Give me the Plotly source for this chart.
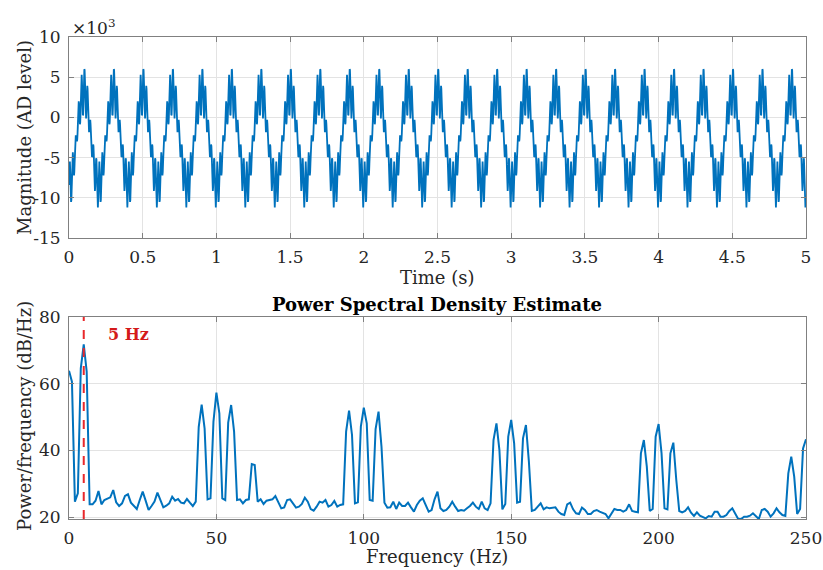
import numpy as np
import plotly.graph_objects as go

# ---------------- data ----------------
fs = 500  # samples per second
# one 0.2 s cycle of the (periodic) signal, AD counts
cycle_counts = [
    -8400, -6620, -5520, -5480, -6490, -8120, -9680, -10510, -10280, -9070,
    -7290, -5590, -4520, -4350, -4980, -6010, -6900, -7210, -6780, -5720,
    -4390, -3200, -2460, -2220, -2360, -2600, -2840, -2980, -2740, -2000,
    -810, 520, 1580, 2010, 1700, 810, -230, -850, -680, 390,
    2090, 3870, 5080, 5310, 4480, 2920, 1290, 280, 320, 1420,
    3200, 4960, 5990, 5910, 4750, 2920, 1110, -10, -120, 720,
    2090, 3360, 3940, 3600, 2420, 810, -690, -1620, -1830, -1450,
    -810, -320, -290, -770, -1630, -2600, -3570, -4430, -4910, -4880,
    -4390, -3750, -3370, -3580, -4510, -6010, -7620, -8800, -9140, -8560,
    -7290, -5920, -5080, -5190, -6310, -8120, -9950, -11110, -11190, -10160,
]
n_cycles = 25

psd_db = [
    63.9, 60.6, 24.6, 27.1, 64.6, 71.8, 63.6, 23.8, 23.8, 24.9,
    27.8, 23.8, 25.1, 25.4, 25.9, 28.1, 24.4, 23.3, 24.1, 26.3,
    26.8, 24.3, 23.3, 22.4, 25.1, 27.6, 24.9, 22.1, 23.3, 24.6,
    27.3, 25.2, 22.9, 23.4, 24.1, 26.1, 24.9, 25.4, 24.3, 24.1,
    25.4, 24.3, 23.3, 24.6, 47.0, 53.7, 46.5, 25.3, 25.6, 48.6,
    57.3, 51.1, 25.6, 25.1, 48.3, 53.6, 45.6, 25.1, 25.3, 24.1,
    25.1, 25.3, 35.9, 35.6, 24.6, 25.3, 23.9, 24.9, 25.1, 25.3,
    26.3, 24.3, 22.6, 22.9, 25.1, 25.3, 23.9, 22.8, 23.1, 23.9,
    25.8, 24.6, 22.4, 21.9, 23.1, 24.6, 24.3, 25.1, 23.1, 23.6,
    24.8, 23.1, 23.6, 23.8, 45.6, 51.9, 44.6, 24.1, 24.4, 47.1,
    52.8, 48.1, 25.1, 24.9, 46.4, 51.6, 41.1, 24.3, 22.8, 22.9,
    24.6, 22.4, 24.3, 23.3, 23.3, 24.3, 22.9, 21.6, 23.6, 24.9,
    25.6, 23.8, 21.6, 22.1, 25.3, 27.6, 22.6, 21.8, 22.1, 23.1,
    24.6, 23.1, 21.8, 22.1, 21.9, 22.6, 23.3, 24.3, 23.1, 22.4,
    24.6, 22.6, 22.1, 24.1, 43.1, 48.1, 40.1, 22.3, 23.9, 44.1,
    49.1, 42.1, 24.3, 24.6, 43.6, 47.6, 36.6, 21.8, 22.1, 23.1,
    24.1, 22.3, 22.9, 22.6, 22.8, 22.9, 21.6, 20.9, 20.6, 23.8,
    24.3, 22.3, 21.1, 20.9, 22.8, 22.1, 20.9, 20.9, 21.8, 22.1,
    21.6, 21.3, 20.9, 19.6, 21.1, 22.4, 22.1, 22.1, 21.6, 22.1,
    23.8, 21.8, 21.6, 21.4, 39.1, 43.1, 35.1, 21.8, 22.4, 44.1,
    47.9, 39.1, 22.6, 22.3, 39.1, 42.3, 31.1, 21.8, 21.4, 21.8,
    22.9, 21.3, 20.3, 21.4, 20.4, 19.9, 19.6, 20.3, 20.1, 21.6,
    21.6, 20.1, 20.1, 20.6, 21.8, 22.6, 21.1, 19.4, 19.4, 20.1,
    20.1, 20.4, 21.1, 20.1, 19.4, 22.1, 22.4, 21.6, 20.1, 21.1,
    22.6, 21.4, 20.6, 20.3, 33.1, 38.1, 32.1, 20.9, 22.4, 40.6,
    43.3,
]
freq_hz = np.arange(len(psd_db))  # 1 Hz bins, 0..250 Hz
marker_freq = 5

top_yticks = [-15000, -10000, -5000, 0, 5000, 10000]
top_yticktext = ["-15", "-10", "-5", "0", "5", "10"]
top_xticks = [0, 0.5, 1, 1.5, 2, 2.5, 3, 3.5, 4, 4.5, 5]
bot_xticks = [0, 50, 100, 150, 200, 250]
bot_yticks = [20, 40, 60, 80]

signal = np.tile(np.array(cycle_counts, dtype=float), n_cycles)
t = np.arange(len(signal)) / fs

# ---------------- figure ----------------
W, H = 823, 570
FONT = "DejaVu Serif"
TXT = "#262626"
BLUE = "#0072BD"
GRID = "#e3e3e3"
AXC = "#808080"


def px(x):
    return x / W


def py(y):
    return 1 - y / H


fig = go.Figure()
fig.add_trace(go.Scatter(x=t, y=signal, mode="lines",
                         line=dict(color=BLUE, width=1.8),
                         xaxis="x", yaxis="y", showlegend=False, hoverinfo="skip"))
fig.add_trace(go.Scatter(x=freq_hz, y=psd_db, mode="lines",
                         line=dict(color=BLUE, width=2),
                         xaxis="x2", yaxis="y2", showlegend=False))
fig.add_trace(go.Scatter(x=[marker_freq, marker_freq], y=[19.4, 80], mode="lines",
                         line=dict(color="#e8282b", width=2, dash="dash"),
                         xaxis="x2", yaxis="y2", showlegend=False))

common_axis = dict(
    showline=True, linecolor=AXC, linewidth=1, mirror="ticks",
    ticks="inside", ticklen=5, tickcolor=AXC,
    showgrid=True, gridcolor=GRID, gridwidth=1,
    zeroline=False, automargin=False,
    tickfont=dict(family=FONT, size=17, color=TXT),
)

xd = [px(69), px(806)]
fig.update_layout(
    width=W, height=H,
    margin=dict(l=0, r=0, t=0, b=0, autoexpand=False),
    paper_bgcolor="white", plot_bgcolor="white",
    xaxis=dict(common_axis, domain=xd, range=[0, 5], tickvals=top_xticks,
               anchor="y", ticklabelstandoff=4),
    yaxis=dict(common_axis, domain=[py(238), py(37)], range=[-15000, 10000],
               tickvals=top_yticks, ticktext=top_yticktext, anchor="x",
               ticklabelstandoff=4),
    xaxis2=dict(common_axis, domain=xd, range=[0, 250], tickvals=bot_xticks,
                anchor="y2", ticklabelstandoff=4),
    yaxis2=dict(common_axis, domain=[py(519), py(317)], range=[19.4, 80],
                tickvals=bot_yticks, anchor="x2", ticklabelstandoff=4),
)

ann = []
ann.append(dict(text="×10<sup>3</sup>", x=px(70), y=py(27), xref="paper", yref="paper",
                xanchor="left", yanchor="middle", showarrow=False,
                font=dict(family=FONT, size=17, color=TXT)))
ann.append(dict(text="Magnitude (AD level)", x=px(24), y=py(138), xref="paper", yref="paper",
                textangle=-90, xanchor="center", yanchor="middle", showarrow=False,
                font=dict(family=FONT, size=18, color=TXT)))
ann.append(dict(text="Time (s)", x=px(437), y=py(277), xref="paper", yref="paper",
                xanchor="center", yanchor="middle", showarrow=False,
                font=dict(family=FONT, size=18, color=TXT)))
ann.append(dict(text="<b>Power Spectral Density Estimate</b>", x=px(437), y=py(304),
                xref="paper", yref="paper", xanchor="center", yanchor="middle",
                showarrow=False, font=dict(family=FONT, size=18, color="#000000")))
ann.append(dict(text="Power/frequency (dB/Hz)", x=px(24), y=py(416), xref="paper", yref="paper",
                textangle=-90, xanchor="center", yanchor="middle", showarrow=False,
                font=dict(family=FONT, size=18, color=TXT)))
ann.append(dict(text="Frequency (Hz)", x=px(437), y=py(556), xref="paper", yref="paper",
                xanchor="center", yanchor="middle", showarrow=False,
                font=dict(family=FONT, size=18, color=TXT)))
ann.append(dict(text="<b>5 Hz</b>", x=12.5, y=74.9, xref="x2", yref="y2",
                xanchor="left", yanchor="middle", showarrow=False,
                font=dict(family=FONT, size=16, color="#d41a1a")))
fig.update_layout(annotations=ann)

fig.write_html("out.html")
